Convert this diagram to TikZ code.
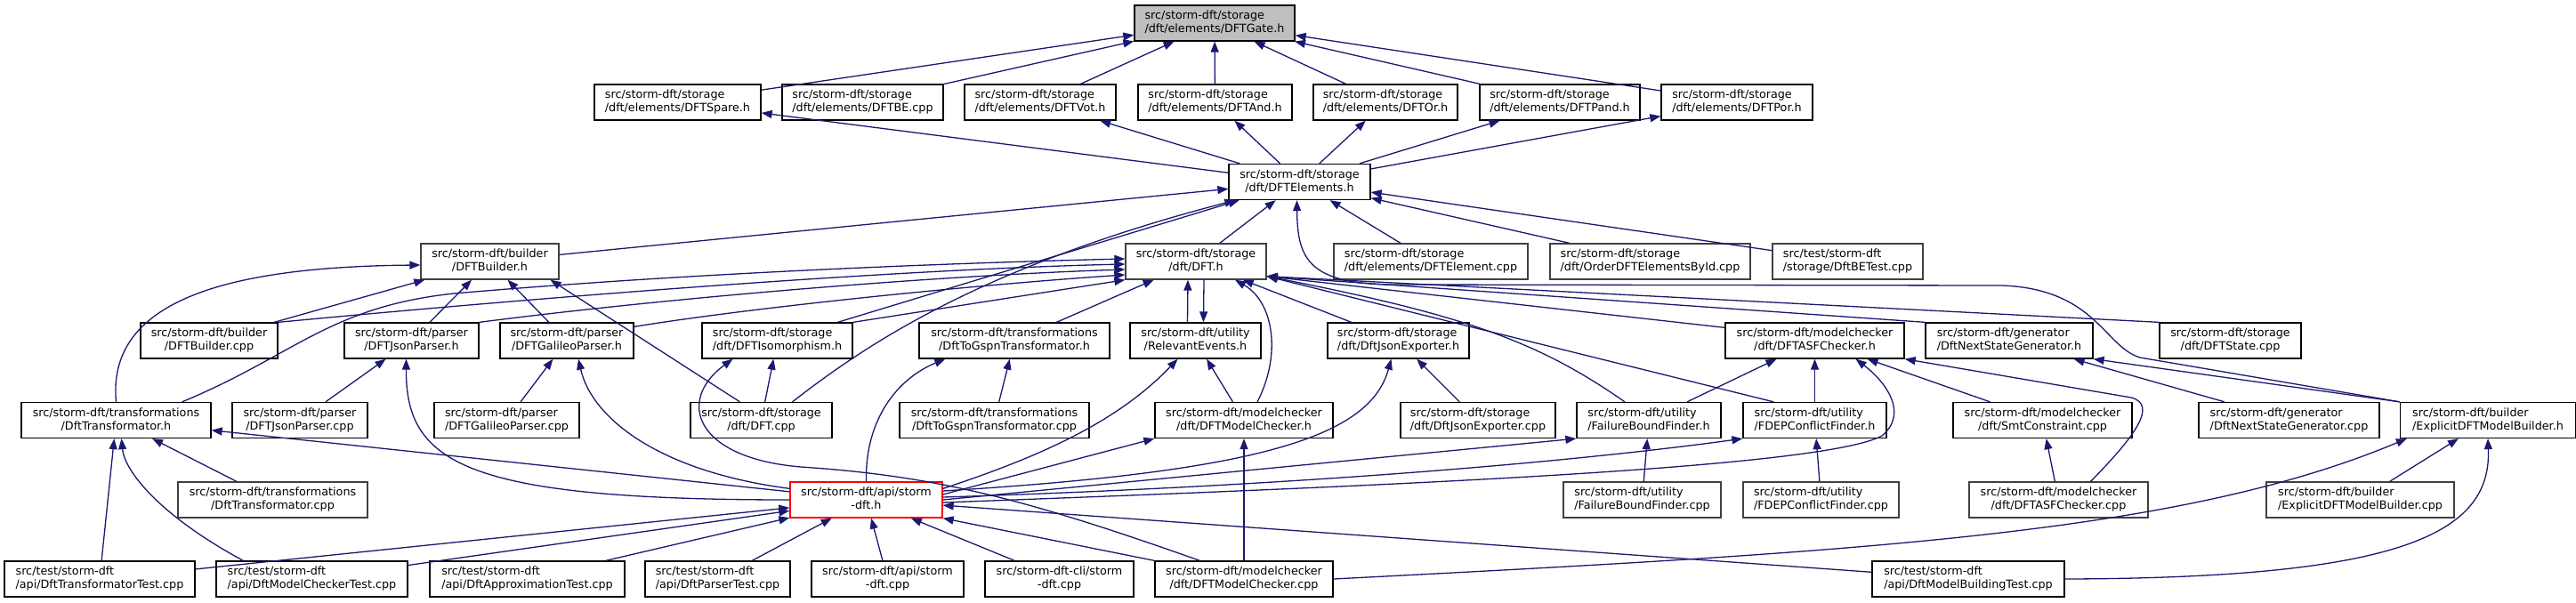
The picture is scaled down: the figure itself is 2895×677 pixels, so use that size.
\documentclass[tikz,border=0pt]{standalone}
\usepackage{fontspec}
\setmainfont{DejaVu Sans}
\usetikzlibrary{arrows.meta,calc}
\definecolor{edgeblue}{HTML}{191970}
\definecolor{gatefill}{HTML}{BFBFBF}
\definecolor{dimline}{HTML}{404040}
\newcommand\flabel[2]{\begin{tabular}{@{}l@{}}#1\\\multicolumn{1}{@{}c@{}}{#2}\end{tabular}}
\tikzset{>={Triangle[length=12pt,width=9pt]},file/.style={draw=black,line width=1.3pt,fill=white,minimum height=40pt,inner sep=0pt,font=\fontsize{12.75}{15}\selectfont},dim/.style={file,draw=dimline},dep/.style={->,draw=edgeblue,line width=1.3pt}}

\begin{document}
\begin{tikzpicture}[x=1pt,y=-1pt]
\useasboundingbox (0,0) rectangle (2895,677);
\fill[white] (0,0) rectangle (2895,677);
\node[file,fill=gatefill,minimum width=180pt] (gate) at (1365,26) {\flabel{src/storm-dft/storage}{/dft/elements/DFTGate.h}};
\node[file,minimum width=187pt] (spare) at (761.5,115) {\flabel{src/storm-dft/storage}{/dft/elements/DFTSpare.h}};
\node[file,minimum width=181pt] (be) at (969.5,115) {\flabel{src/storm-dft/storage}{/dft/elements/DFTBE.cpp}};
\node[file,minimum width=170pt] (vot) at (1169,115) {\flabel{src/storm-dft/storage}{/dft/elements/DFTVot.h}};
\node[file,minimum width=173pt] (and) at (1365.5,115) {\flabel{src/storm-dft/storage}{/dft/elements/DFTAnd.h}};
\node[file,minimum width=162pt] (or) at (1557,115) {\flabel{src/storm-dft/storage}{/dft/elements/DFTOr.h}};
\node[file,minimum width=180pt] (pand) at (1753,115) {\flabel{src/storm-dft/storage}{/dft/elements/DFTPand.h}};
\node[file,minimum width=170pt] (por) at (1952,115) {\flabel{src/storm-dft/storage}{/dft/elements/DFTPor.h}};
\node[file,minimum width=159pt] (elements) at (1460.5,204.5) {\flabel{src/storm-dft/storage}{/dft/DFTElements.h}};
\node[dim,minimum width=155pt] (builder) at (550.5,294) {\flabel{src/storm-dft/builder}{/DFTBuilder.h}};
\node[dim,minimum width=158pt] (dft) at (1344,294) {\flabel{src/storm-dft/storage}{/dft/DFT.h}};
\node[dim,minimum width=218pt] (element) at (1608,294) {\flabel{src/storm-dft/storage}{/dft/elements/DFTElement.cpp}};
\node[dim,minimum width=225pt] (order) at (1854.5,294) {\flabel{src/storm-dft/storage}{/dft/OrderDFTElementsById.cpp}};
\node[dim,minimum width=169pt] (betest) at (2076.5,294) {\flabel{src/test/storm-dft}{/storage/DftBETest.cpp}};
\node[file,minimum width=154pt] (buildercpp) at (235,383) {\flabel{src/storm-dft/builder}{/DFTBuilder.cpp}};
\node[file,minimum width=151pt] (jsonparser) at (462.5,383) {\flabel{src/storm-dft/parser}{/DFTJsonParser.h}};
\node[file,minimum width=150pt] (galileo) at (637,383) {\flabel{src/storm-dft/parser}{/DFTGalileoParser.h}};
\node[file,minimum width=169pt] (iso) at (873.5,383) {\flabel{src/storm-dft/storage}{/dft/DFTIsomorphism.h}};
\node[file,minimum width=214pt] (gspn) at (1140,383) {\flabel{src/storm-dft/transformations}{/DftToGspnTransformator.h}};
\node[file,minimum width=147pt] (relevant) at (1343.5,383) {\flabel{src/storm-dft/utility}{/RelevantEvents.h}};
\node[file,minimum width=159pt] (exporter) at (1571.5,383) {\flabel{src/storm-dft/storage}{/dft/DftJsonExporter.h}};
\node[file,minimum width=201pt] (asf) at (2039.5,383) {\flabel{src/storm-dft/modelchecker}{/dft/DFTASFChecker.h}};
\node[file,minimum width=188pt] (nextstate) at (2258,383) {\flabel{src/storm-dft/generator}{/DftNextStateGenerator.h}};
\node[file,minimum width=159pt] (state) at (2506.5,383) {\flabel{src/storm-dft/storage}{/dft/DFTState.cpp}};
\node[file,minimum width=213pt] (transformator) at (130.5,472.5) {\flabel{src/storm-dft/transformations}{/DftTransformator.h}};
\node[file,minimum width=152pt] (jsonparsercpp) at (337,472.5) {\flabel{src/storm-dft/parser}{/DFTJsonParser.cpp}};
\node[file,minimum width=163pt] (galileocpp) at (569.5,472.5) {\flabel{src/storm-dft/parser}{/DFTGalileoParser.cpp}};
\node[file,minimum width=159pt] (dftcpp) at (855.5,472.5) {\flabel{src/storm-dft/storage}{/dft/DFT.cpp}};
\node[file,minimum width=213pt] (gspncpp) at (1117.5,472.5) {\flabel{src/storm-dft/transformations}{/DftToGspnTransformator.cpp}};
\node[file,minimum width=200pt] (mc) at (1398,472.5) {\flabel{src/storm-dft/modelchecker}{/dft/DFTModelChecker.h}};
\node[file,minimum width=174pt] (exportercpp) at (1661,472.5) {\flabel{src/storm-dft/storage}{/dft/DftJsonExporter.cpp}};
\node[file,minimum width=162pt] (fbf) at (1853,472.5) {\flabel{src/storm-dft/utility}{/FailureBoundFinder.h}};
\node[file,minimum width=161pt] (fdep) at (2039.5,472.5) {\flabel{src/storm-dft/utility}{/FDEPConflictFinder.h}};
\node[file,minimum width=201pt] (smt) at (2295.5,472.5) {\flabel{src/storm-dft/modelchecker}{/dft/SmtConstraint.cpp}};
\node[file,minimum width=203pt] (nextstatecpp) at (2572.5,472.5) {\flabel{src/storm-dft/generator}{/DftNextStateGenerator.cpp}};
\node[file,minimum width=197pt] (explicit) at (2796,472.5) {\flabel{src/storm-dft/builder}{/ExplicitDFTModelBuilder.h}};
\node[dim,minimum width=213pt] (transformatorcpp) at (306.5,562) {\flabel{src/storm-dft/transformations}{/DftTransformator.cpp}};
\node[file,draw=red,minimum width=171pt] (api) at (973.5,562) {\flabel{src/storm-dft/api/storm}{-dft.h}};
\node[dim,minimum width=177pt] (fbfcpp) at (1845.5,562) {\flabel{src/storm-dft/utility}{/FailureBoundFinder.cpp}};
\node[dim,minimum width=175pt] (fdepcpp) at (2046.5,562) {\flabel{src/storm-dft/utility}{/FDEPConflictFinder.cpp}};
\node[dim,minimum width=201pt] (asfcpp) at (2313.5,562) {\flabel{src/storm-dft/modelchecker}{/dft/DFTASFChecker.cpp}};
\node[dim,minimum width=211pt] (explicitcpp) at (2652.5,562) {\flabel{src/storm-dft/builder}{/ExplicitDFTModelBuilder.cpp}};
\node[file,minimum width=214pt] (transtest) at (112,651) {\flabel{src/test/storm-dft}{/api/DftTransformatorTest.cpp}};
\node[file,minimum width=215pt] (mctest) at (350.5,651) {\flabel{src/test/storm-dft}{/api/DftModelCheckerTest.cpp}};
\node[file,minimum width=219pt] (approxtest) at (592.5,651) {\flabel{src/test/storm-dft}{/api/DftApproximationTest.cpp}};
\node[file,minimum width=163pt] (parsertest) at (806.5,651) {\flabel{src/test/storm-dft}{/api/DftParserTest.cpp}};
\node[file,minimum width=171pt] (apicpp) at (997.5,651) {\flabel{src/storm-dft/api/storm}{-dft.cpp}};
\node[file,minimum width=167pt] (cli) at (1190.5,651) {\flabel{src/storm-dft-cli/storm}{-dft.cpp}};
\node[file,minimum width=200pt] (mccpp) at (1398,651) {\flabel{src/storm-dft/modelchecker}{/dft/DFTModelChecker.cpp}};
\node[file,minimum width=216pt] (buildingtest) at (2212,651) {\flabel{src/test/storm-dft}{/api/DftModelBuildingTest.cpp}};
\foreach \a/\b in {spare/gate,be/gate,vot/gate,and/gate,or/gate,pand/gate,por/gate,elements/spare,elements/vot,elements/and,elements/or,elements/pand,elements/por,builder/elements,iso/elements,dft/elements,element/elements,order/elements,betest/elements,buildercpp/builder,jsonparser/builder,galileo/builder,jsonparsercpp/jsonparser,galileocpp/galileo,dftcpp/iso,gspncpp/gspn,gspn/dft,exporter/dft,exportercpp/exporter,mc/relevant,fbfcpp/fbf,fdepcpp/fdep,fdep/asf,fbf/asf,smt/asf,asfcpp/smt,nextstatecpp/nextstate,explicitcpp/explicit,mccpp/mc,transtest/transformator,transformatorcpp/transformator,api/transformator,cli/api,apicpp/api,parsertest/api,approxtest/api,mctest/api,transtest/api,buildingtest/api}
  \draw[dep] (\a) -- (\b);
\draw[dep] ([xshift=-24pt]dftcpp.north) -- ([xshift=68pt]builder.south);
\draw[dep] ([xshift=-9pt]relevant.north) -- ([xshift=-9pt]dft.south);
\draw[dep] ([xshift=9pt]dft.south) -- ([xshift=9pt]relevant.north);
\draw[dep] (explicit.north west) -- (nextstate.south east);
\draw[dep] (iso.north east) -- (dft.south west);
\draw[dep] (mccpp.north west) -- (api.south east);
\draw[dep] (api.east) -- (fbf.south west);
\draw[dep] ($(api.east)+(0,-6)$) -- (mc.south west);
\draw[dep] (state.north west) -- ($(dft.south east)+(0,-4)$);
\draw[dep] (nextstate.north west) -- ($(dft.south east)+(0,-4)$);
\draw[dep] ($(asf.north west)+(0,6)$) -- ($(dft.south east)+(0,-4)$);
\draw[dep] ($(fdep.north west)+(35,0)$) -- ($(dft.south east)+(0,-4)$);
\draw[dep] ($(fbf.north)+(-27,0)$) .. controls (1730,385) and (1650,355) .. ($(dft.south east)+(0,-4)$);
\draw[dep] ($(mc.north)+(15,0)$) .. controls (1440,400) and (1432,340) .. ($(dft.south)+(44,0)$);
\draw[dep] ($(transformator.north east)+(-33,0)$) .. controls (330,400) and (370,345) .. (510,330) .. controls (800,305) and (1100,295) .. ($(dft.west)+(0,-3)$);
\draw[dep] (buildercpp.north east) .. controls (600,335) and (1000,303) .. ($(dft.west)+(0,3)$);
\draw[dep] (jsonparser.north east) .. controls (750,335) and (1050,310) .. ($(dft.west)+(0,9)$);
\draw[dep] ($(galileo.north east)+(0,5)$) .. controls (850,345) and (1100,320) .. ($(dft.west)+(0,15)$);
\draw[dep] ($(dftcpp.north)+(35,0)$) .. controls (970,390) and (1100,300) .. ($(elements.south west)+(8,0)$);
\draw[dep] ($(mccpp.north west)+(51,0)$) .. controls (1150,560) and (1050,535) .. (900,525) .. controls (780,515) and (760,450) .. ($(iso.south)+(-50,0)$);
\draw[dep] (api.west) .. controls (520,562) and (456,520) .. ($(jsonparser.south)+(-6,0)$);
\draw[dep] ($(api.north west)+(0,8)$) .. controls (740,530) and (665,470) .. ($(galileo.south)+(13,0)$);
\draw[dep] (api.north) .. controls (972,470) and (1010,425) .. ($(gspn.south west)+(30,0)$);
\draw[dep] ($(api.north east)+(0,8)$) .. controls (1180,510) and (1260,470) .. ($(relevant.south)+(-20,0)$);
\draw[dep] ($(api.east)+(0,-10)$) .. controls (1420,530) and (1540,490) .. ($(exporter.south)+(-8,0)$);
\draw[dep] ($(api.east)+(0,-3)$) .. controls (1500,545) and (1800,515) .. (fdep.south west);
\draw[dep] ($(api.east)+(0,3)$) .. controls (1600,545) and (2050,525) .. (2115,490) .. controls (2145,465) and (2120,430) .. ($(asf.south)+(46,0)$);
\draw[dep] ($(mctest.north west)+(31,0)$) .. controls (180,580) and (140,530) .. ($(transformator.south)+(6,0)$);
\draw[dep] (transformator.north) .. controls (120,340) and (250,300) .. ($(builder.west)+(0,4)$);
\draw[dep] (explicit.north west) -- (2405,402) .. controls (2365,390) and (2355,325) .. (2250,321) -- (1560,320) .. controls (1470,318) and (1458,290) .. ($(elements.south)+(-3,0)$);
\draw[dep] ($(asfcpp.north)+(36,0)$) .. controls (2400,490) and (2425,455) .. (2395,447) -- (asf.south east);
\draw[dep] (mccpp.east) .. controls (2100,620) and (2450,600) .. ($(explicit.south west)+(8,0)$);
\draw[dep] (buildingtest.east) .. controls (2700,650) and (2800,600) .. (explicit.south);
\end{tikzpicture}
\end{document}
